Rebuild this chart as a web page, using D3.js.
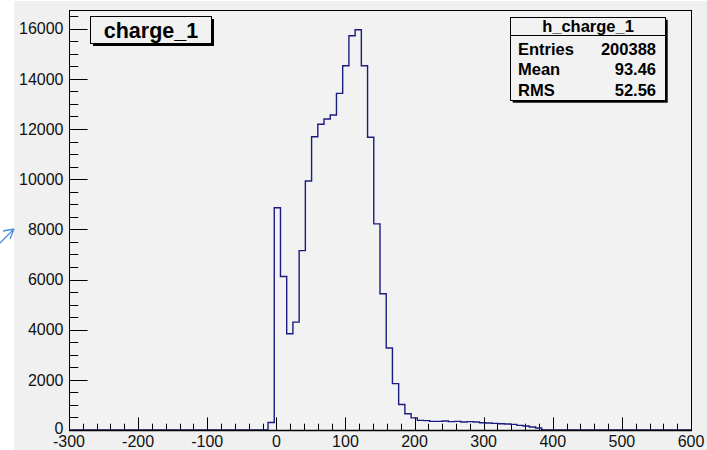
<!DOCTYPE html>
<html>
<head>
<meta charset="utf-8">
<script src="https://cdn.jsdelivr.net/npm/d3@7"></script>
<style>
  body { margin: 0; background: #fff; }
  text { font-family: "Liberation Sans", Arial, sans-serif; }
</style>
</head>
<body>
<div id="chart"></div>
<script>
// histogram h_charge_1 : 100 bins from -300 to 600
const binLow = -300,
    binWidth = 9;
const counts = [
    0, 0, 0, 0, 0, 0, 0, 0, 0, 0,
    0, 0, 0, 0, 0, 0, 0, 0, 0, 0,
    0, 0, 0, 0, 0, 0, 0, 0, 0, 0,
    0, 0, 300, 8860, 6120, 3840, 4300, 7150, 9930, 11690,
    12190, 12400, 12560, 13420, 14520, 15720, 15960, 14520, 11670, 8220,
    5430, 3270, 1850, 1015, 645, 485, 385, 372, 345, 345,
    358, 332, 345, 318, 332, 318, 292, 279, 265, 252,
    239, 225, 186, 160, 120, 80, 0, 0, 0, 0,
    0, 0, 0, 0, 0, 0, 0, 0, 0, 0,
    0, 0, 0, 0, 0, 0, 0, 0, 0, 0
];
const xTicks = [-300, -200, -100, 0, 100, 200, 300, 400, 500, 600];
const yTicks = [0, 2000, 4000, 6000, 8000, 10000, 12000, 14000, 16000];
const histTitle = 'charge_1';
const statsName = 'h_charge_1';
const statsRows = [
    ['Entries', '200388'],
    ['Mean', '93.46'],
    ['RMS', '52.56']
];

const width = 707,
    height = 450;
const frame = { left: 69, right: 691, top: 10, bottom: 430 };
const lineColor = '#1c1c80',
    padColor = '#f0f0f0',
    frameColor = '#f2f2f2';

const svg = d3.select('#chart').append('svg')
    .attr('width', width)
    .attr('height', height);

svg.append('rect')
    .attr('x', 14).attr('y', 1)
    .attr('width', width - 14).attr('height', height - 1)
    .attr('fill', padColor);

// little hand-drawn arrow on the left margin
svg.append('path')
    .attr('d', 'M0,243 L14,229 M14,229 L3,231 M14,229 L10,239')
    .attr('fill', 'none')
    .attr('stroke', '#4a8fe0')
    .attr('stroke-width', 1.3);

const x = d3.scaleLinear()
    .domain([-300, 600])
    .range([frame.left, frame.right]);
const y = d3.scaleLinear()
    .domain([0, 16745])
    .range([frame.bottom, frame.top]);

svg.append('rect')
    .attr('x', frame.left + 0.5).attr('y', frame.top + 0.5)
    .attr('width', frame.right - frame.left).attr('height', frame.bottom - frame.top)
    .attr('fill', frameColor)
    .attr('stroke', '#000')
    .attr('stroke-width', 1);

// ticks (drawn inside frame, ROOT style)
const g = svg.append('g');
const xMinor = d3.range(-300, 601, 20);
g.selectAll('.xtick')
    .data(xMinor)
    .enter()
    .append('line')
    .attr('x1', d => Math.round(x(d)) + 0.5)
    .attr('x2', d => Math.round(x(d)) + 0.5)
    .attr('y1', frame.bottom)
    .attr('y2', d => frame.bottom - (d % 100 === 0 ? 12.6 : 6.3))
    .attr('stroke', '#000')
    .attr('stroke-width', 1);

const yMinor = d3.range(0, 16501, 500);
g.selectAll('.ytick')
    .data(yMinor)
    .enter()
    .append('line')
    .attr('y1', d => Math.round(y(d)) + 0.5)
    .attr('y2', d => Math.round(y(d)) + 0.5)
    .attr('x1', frame.left)
    .attr('x2', d => frame.left + (d % 2000 === 0 ? 18.6 : 9.3))
    .attr('stroke', '#000')
    .attr('stroke-width', 1);

// histogram outline
const pts = counts.map((c, i) => [binLow + i * binWidth, c]);
pts.push([binLow + counts.length * binWidth, counts[counts.length - 1]]);
const line = d3.line()
    .x(d => x(d[0]))
    .y(d => y(d[1]))
    .curve(d3.curveStepAfter);
svg.append('path')
    .datum(pts)
    .attr('d', line)
    .attr('fill', 'none')
    .attr('stroke', lineColor)
    .attr('stroke-width', 1.4);

// axis line at the bottom
svg.append('line')
    .attr('x1', frame.left).attr('x2', frame.right + 1)
    .attr('y1', frame.bottom + 0.5).attr('y2', frame.bottom + 0.5)
    .attr('stroke', '#000')
    .attr('stroke-width', 1.6);

// labels
svg.append('g')
    .selectAll('text')
    .data(xTicks)
    .enter()
    .append('text')
    .attr('x', d => x(d))
    .attr('y', 447)
    .attr('text-anchor', 'middle')
    .attr('font-size', '16px')
    .attr('fill', '#111')
    .text(d => d);

svg.append('g')
    .selectAll('text')
    .data(yTicks)
    .enter()
    .append('text')
    .attr('x', 63.5)
    .attr('y', d => y(d) - (d === 0 ? 2 : 0))
    .attr('dy', '0.36em')
    .attr('text-anchor', 'end')
    .attr('font-size', '16px')
    .attr('fill', '#111')
    .text(d => d);

// title box
function shadowBox(bx, by, bw, bh, off) {
    svg.append('rect')
        .attr('x', bx + off).attr('y', by + off)
        .attr('width', bw).attr('height', bh)
        .attr('fill', '#000');
    svg.append('rect')
        .attr('x', bx).attr('y', by)
        .attr('width', bw).attr('height', bh)
        .attr('fill', frameColor)
        .attr('stroke', '#000')
        .attr('stroke-width', 1);
}
shadowBox(90.5, 16.5, 121, 27, 2.5);
svg.append('text')
    .attr('x', 151).attr('y', 37.5)
    .attr('text-anchor', 'middle')
    .attr('font-size', '21.5px')
    .attr('font-weight', 'bold')
    .text(histTitle);

// stats box
const sb = { x: 510.5, y: 17.5, w: 155, h: 83 };
shadowBox(sb.x, sb.y, sb.w, sb.h, 2.2);
svg.append('line')
    .attr('x1', sb.x).attr('x2', sb.x + sb.w)
    .attr('y1', 35.5).attr('y2', 35.5)
    .attr('stroke', '#000');
svg.append('text')
    .attr('x', sb.x + sb.w / 2).attr('y', 32)
    .attr('text-anchor', 'middle')
    .attr('font-size', '16.5px')
    .attr('font-weight', 'bold')
    .text(statsName);
statsRows.forEach((r, i) => {
    const by = 55 + i * 20.3;
    svg.append('text')
        .attr('x', 518).attr('y', by)
        .attr('font-size', '16.5px')
        .attr('font-weight', 'bold')
        .text(r[0]);
    svg.append('text')
        .attr('x', 656).attr('y', by)
        .attr('text-anchor', 'end')
        .attr('font-size', '16.5px')
        .attr('font-weight', 'bold')
        .text(r[1]);
});
</script>
</body>
</html>
